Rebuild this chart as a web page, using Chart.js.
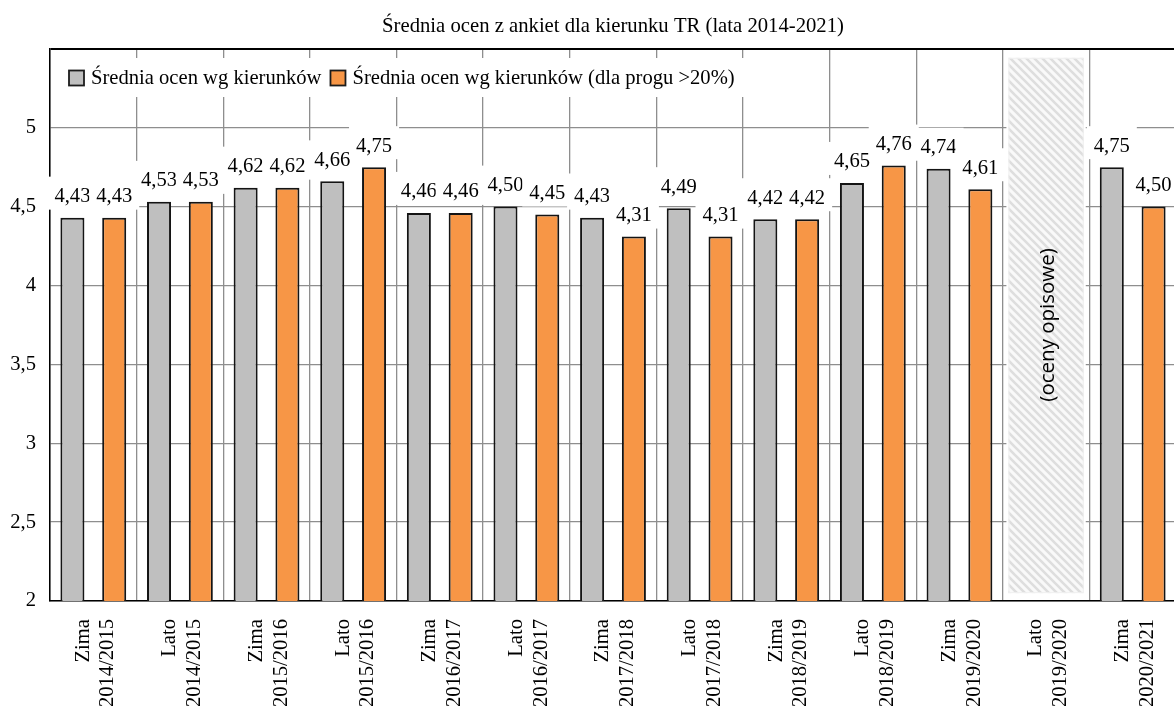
<!DOCTYPE html>
<html><head><meta charset="utf-8">
<script src="https://cdn.jsdelivr.net/npm/chart.js@4.4.1/dist/chart.umd.min.js"></script>
<style>
html,body{margin:0;padding:0;overflow:hidden;background:#fff;}
#wrap{position:relative;width:1180px;height:707px;}
canvas{display:block;}
</style></head><body>
<div id="wrap"><canvas id="c" width="1180" height="707"></canvas></div>
<script>
// ---- data ----
const categories = [
  ['Zima','2014/2015'],['Lato','2014/2015'],['Zima','2015/2016'],['Lato','2015/2016'],
  ['Zima','2016/2017'],['Lato','2016/2017'],['Zima','2017/2018'],['Lato','2017/2018'],
  ['Zima','2018/2019'],['Lato','2018/2019'],['Zima','2019/2020'],['Lato','2019/2020'],
  ['Zima','2020/2021']
];
const seriesNames = ['Średnia ocen wg kierunków', 'Średnia ocen wg kierunków (dla progu >20%)'];
const avgAll       = [4.43, 4.53, 4.62, 4.66, 4.46, 4.50, 4.43, 4.49, 4.42, 4.65, 4.74, null, 4.75];
const avgThreshold = [4.43, 4.53, 4.62, 4.75, 4.46, 4.45, 4.31, 4.31, 4.42, 4.76, 4.61, null, 4.50];
const yTickValues = [2, 2.5, 3, 3.5, 4, 4.5, 5];
const noteCategory = 11;
const noteText = '(oceny opisowe)';
const chartTitle = 'Średnia ocen z ankiet dla kierunku TR (lata 2014-2021)';

const SERIF = "'Liberation Serif','Times New Roman',serif";
const FS = 20.6;
const fmt = v => String(v.toFixed(2)).replace('.', ',');

// hatch pattern
function makeHatch() {
  const s = 8, c = document.createElement('canvas');
  c.width = s; c.height = s;
  const g = c.getContext('2d');
  g.fillStyle = '#f9f9f9'; g.fillRect(0,0,s,s);
  g.strokeStyle = '#dedede'; g.lineWidth = 2.6;
  g.beginPath();
  for (let k = -1; k <= 1; k++) {
    g.moveTo(k*s - 1, -1); g.lineTo(k*s + s + 1, s + 1);
  }
  g.stroke();
  return c;
}

const notePlugin = {
  id: 'noteBox',
  beforeDatasetsDraw(chart) {
    const {ctx, scales:{x, y}} = chart;
    const cw = x.getPixelForValue(1) - x.getPixelForValue(0);
    const cx = x.getPixelForValue(noteCategory);
    const x0 = cx - cw*0.435, x1 = cx + cw*0.435;
    const y0 = y.getPixelForValue(5.443), y1 = y.getPixelForValue(2.05);
    ctx.save();
    ctx.fillStyle = '#fff';
    ctx.fillRect(x0-2, y0-2, x1-x0+4, y1-y0+4);
    ctx.fillStyle = ctx.createPattern(makeHatch(), 'repeat');
    ctx.fillRect(x0, y0, x1-x0, y1-y0);
    ctx.strokeStyle = '#f0f0f0'; ctx.lineWidth = 1;
    ctx.strokeRect(x0+0.5, y0+0.5, x1-x0-1, y1-y0-1);
    ctx.translate(cx + 2, y.getPixelForValue(3.75));
    ctx.rotate(-Math.PI/2);
    ctx.fillStyle = '#000';
    ctx.font = "20.5px 'Open Sans','Liberation Sans',sans-serif";
    ctx.textAlign = 'center'; ctx.textBaseline = 'middle';
    ctx.fillText(noteText, 0, 0);
    ctx.restore();
  }
};

const labelPlugin = {
  id: 'valueLabels',
  afterDatasetsDraw(chart) {
    const ctx = chart.ctx;
    ctx.save();
    ctx.font = FS + 'px ' + SERIF;
    ctx.textAlign = 'center'; ctx.textBaseline = 'middle';
    chart.data.datasets.forEach((ds, di) => {
      const meta = chart.getDatasetMeta(di);
      meta.data.forEach((bar, i) => {
        const v = ds.data[i];
        if (v == null) return;
        const t = fmt(v);
        const w = ctx.measureText(t).width;
        const ty = bar.y - 22;
        ctx.fillStyle = '#fff';
        ctx.fillRect(bar.x - w/2 - 7, ty - 19, w + 14, 33);
        ctx.fillStyle = '#000';
        ctx.fillText(t, bar.x, ty + 1);
      });
    });
    ctx.restore();
  }
};

const legendPlugin = {
  id: 'innerLegend',
  afterDatasetsDraw(chart) {
    const ctx = chart.ctx, ca = chart.chartArea;
    ctx.save();
    ctx.font = FS + 'px ' + SERIF;
    ctx.textBaseline = 'middle';
    const cy = 78, box = 15;
    let xx = ca.left + 19;
    const items = chart.data.datasets.map(d => ({t: d.label, c: d.backgroundColor, w: ctx.measureText(d.label).width}));
    let total = 0;
    items.forEach(it => total += box + 7 + it.w + 9);
    ctx.fillStyle = '#fff';
    ctx.fillRect(ca.left + 7, 58, total + 12 + 12, 39);
    items.forEach(it => {
      ctx.fillStyle = it.c;
      ctx.fillRect(xx, cy - box/2, box, box);
      ctx.strokeStyle = '#1c1c1c'; ctx.lineWidth = 1.8;
      ctx.strokeRect(xx, cy - box/2, box, box);
      ctx.fillStyle = '#000';
      ctx.fillText(it.t, xx + box + 7, cy + 1);
      xx += box + 7 + it.w + 9;
    });
    ctx.restore();
  }
};

Chart.defaults.font.family = SERIF;
Chart.defaults.color = '#000';

new Chart(document.getElementById('c'), {
  type: 'bar',
  data: {
    labels: categories,
    datasets: [
      {label: seriesNames[0], data: avgAll, backgroundColor: '#BFBFBF', borderColor: '#141414', borderWidth: 2},
      {label: seriesNames[1], data: avgThreshold, backgroundColor: '#F79646', borderColor: '#141414', borderWidth: 2}
    ]
  },
  options: {
    responsive: false,
    animation: false,
    devicePixelRatio: 1,
    categoryPercentage: 0.965,
    barPercentage: 0.575,
    layout: {padding: {left: 0, right: 4, top: 0, bottom: 0}},
    plugins: {
      legend: {display: false},
      tooltip: {enabled: false},
      title: {
        display: true, text: chartTitle, fullSize: false,
        font: {size: 20.7, weight: 'normal', family: SERIF}, color: '#000',
        padding: {top: 14, bottom: 10}
      }
    },
    scales: {
      x: {
        grid: {color: '#8e8e8e', lineWidth: 1.3, drawTicks: false, offset: true},
        border: {color: '#000', width: 1.5},
        ticks: {autoSkip: false, maxRotation: 90, minRotation: 90, padding: 18, labelOffset: -10,
                font: {size: FS}, color: '#000'},
        afterFit(s) { s.height = 106; s.paddingLeft = 0; s.paddingRight = 0; }
      },
      y: {
        min: 2, max: 5.5,
        grid: {
          color: c => (c.tick && c.tick.value === 5.5) ? '#000' : '#8e8e8e',
          lineWidth: c => (c.tick && c.tick.value === 5.5) ? 2 : 1.3,
          drawTicks: false
        },
        border: {color: '#000', width: 1.5},
        ticks: {
          stepSize: 0.5, padding: 14, font: {size: FS}, color: '#000',
          callback: v => yTickValues.includes(v) ? String(v).replace('.', ',') : ''
        },
        afterFit(s) { s.width = 50; s.paddingTop = 0; s.paddingBottom = 0; }
      }
    }
  },
  plugins: [notePlugin, labelPlugin, legendPlugin]
});
</script>
</body></html>
